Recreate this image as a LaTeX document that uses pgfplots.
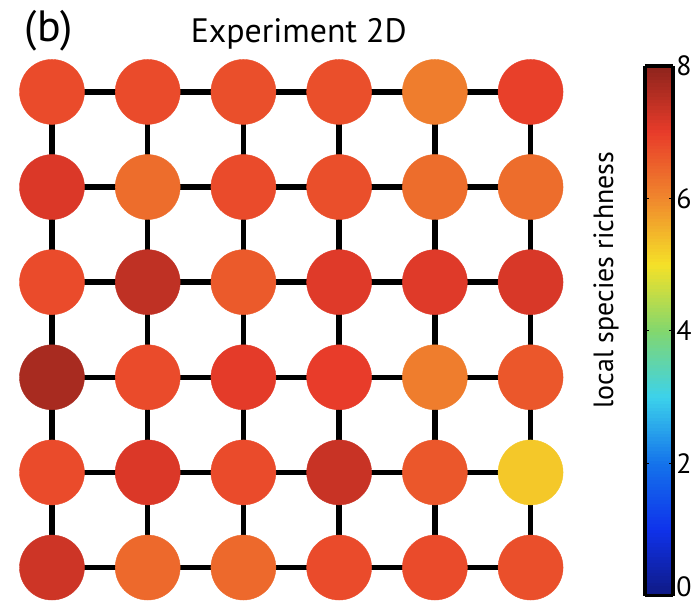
\documentclass[border=0pt]{standalone}
\usepackage{pgfplots}
\pgfplotsset{compat=1.18}
\usepackage{fontspec}
\setmainfont{PT Sans}
\pgfplotsset{
  colormap={ref}{rgb255(0cm)=(15,25,130); rgb255(1cm)=(15,50,235); rgb255(2cm)=(20,115,235); rgb255(3cm)=(60,210,235); rgb255(4cm)=(130,215,110); rgb255(5cm)=(245,225,40); rgb255(6cm)=(240,135,45); rgb255(7cm)=(232,60,42); rgb255(8cm)=(140,35,28)},
}
\pgfplotstableread{
x y v
1 6 6.80
2 6 6.80
3 6 6.75
4 6 6.75
5 6 6.13
6 6 6.95
1 5 7.15
2 5 6.35
3 5 6.80
4 5 6.75
5 5 6.35
6 5 6.35
1 4 6.80
2 4 7.45
3 4 6.60
4 4 7.10
5 4 7.10
6 4 7.18
1 3 7.70
2 3 6.80
3 3 7.05
4 3 7.00
5 3 6.13
6 3 6.65
1 2 6.80
2 2 7.15
3 2 6.80
4 2 7.35
5 2 6.65
6 2 5.28
1 1 7.30
2 1 6.40
3 1 6.40
4 1 6.80
5 1 6.80
6 1 6.75
}\nodes
\begin{document}
\begin{tikzpicture}
\begin{axis}[
  at={(0,0)}, anchor=south west,
  scale only axis, width=695bp, height=605bp,
  xmin=0.4572, xmax=7.7119, ymin=0.6113, ymax=6.9663,
  axis lines=none, ticks=none, clip=false,
  colormap name=ref,
  point meta min=0, point meta max=8,
]
\path (rel axis cs:0,0) rectangle (rel axis cs:1,1);
\addplot[black, line width=5.5bp] coordinates {(1,1) (6,1)};
\addplot[black, line width=5.5bp] coordinates {(1,2) (6,2)};
\addplot[black, line width=5.5bp] coordinates {(1,3) (6,3)};
\addplot[black, line width=5.5bp] coordinates {(1,4) (6,4)};
\addplot[black, line width=5.5bp] coordinates {(1,5) (6,5)};
\addplot[black, line width=5.5bp] coordinates {(1,6) (6,6)};
\addplot[black, line width=5.5bp] coordinates {(1,1) (1,6)};
\addplot[black, line width=5.5bp] coordinates {(2,1) (2,6)};
\addplot[black, line width=5.5bp] coordinates {(3,1) (3,6)};
\addplot[black, line width=5.5bp] coordinates {(4,1) (4,6)};
\addplot[black, line width=5.5bp] coordinates {(5,1) (5,6)};
\addplot[black, line width=5.5bp] coordinates {(6,1) (6,6)};
\addplot[scatter, only marks, mark=*, mark size=32.5bp, point meta=explicit,
  scatter/use mapped color={draw=mapped color, fill=mapped color}]
  table[x=x, y=y, meta=v] {\nodes};
\node[font=\fontsize{34}{34}\selectfont, anchor=base] at (rel axis cs:0.4302,0.9289) {Experiment 2D};
\node[font=\fontsize{44}{44}\selectfont] at (rel axis cs:0.0705,0.9488) {(b)};
\end{axis}
\begin{axis}[
  at={(637bp,9bp)}, anchor=south west,
  scale only axis, width=28bp, height=530bp,
  xmin=0, xmax=1, ymin=0, ymax=8,
  hide axis,
  colormap name=ref,
  point meta min=0, point meta max=8,
  colorbar sampled,
  colorbar style={
    at={(637bp,9bp)}, anchor=south west,
    scale only axis, width=28bp, height=530bp,
    samples=161,
    ytick={0,2,4,6,8}, yticklabels={\raisebox{-1bp}[0pt][0pt]{0},2,4,6,8},
    yticklabel pos=right,
    axis line style={line width=3.5bp, black},
    major tick length=4bp, tick style={black, line width=1bp},
    yticklabel style={font=\fontsize{28}{28}\selectfont, anchor=west},
    /pgf/number format/assume math mode=true,
    ylabel={local species richness},
    ylabel style={at={(axis description cs:-1.39,0.596)}, anchor=center, font=\fontsize{28}{28}\selectfont},
  },
]
\end{axis}
\end{tikzpicture}
\end{document}
